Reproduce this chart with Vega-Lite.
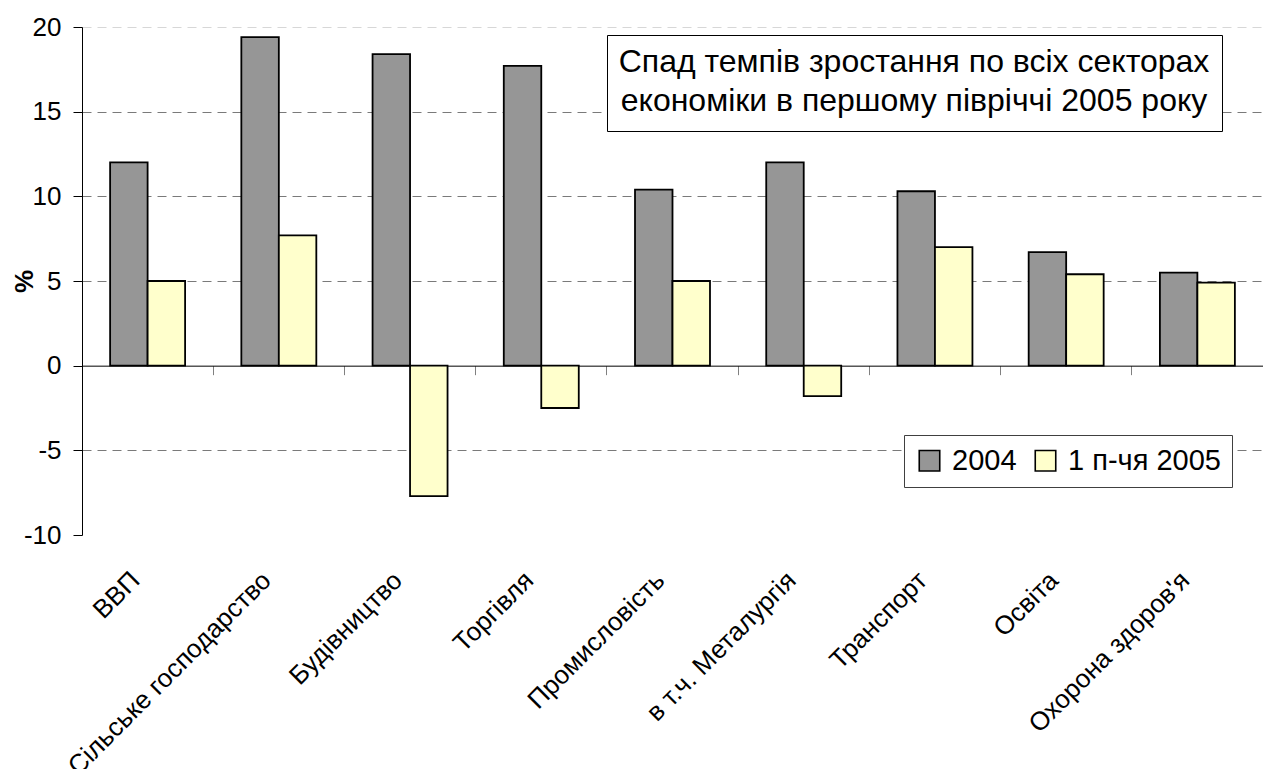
{
  "$schema": "https://vega.github.io/schema/vega-lite/v6.json",
  "width": 1181,
  "height": 508,
  "autosize": {"type": "none"},
  "padding": {"left": 82, "top": 27, "right": 0, "bottom": 234},
  "background": "white",
  "config": {"view": {"stroke": null}, "font": "Liberation Sans"},
  "datasets": {
    "growth": [
      {"sector": "ВВП", "series": "2004", "value": 12.0},
      {"sector": "ВВП", "series": "1 п-чя 2005", "value": 5.0},
      {"sector": "Сільське господарство", "series": "2004", "value": 19.4},
      {"sector": "Сільське господарство", "series": "1 п-чя 2005", "value": 7.7},
      {"sector": "Будівництво", "series": "2004", "value": 18.4},
      {"sector": "Будівництво", "series": "1 п-чя 2005", "value": -7.7},
      {"sector": "Торгівля", "series": "2004", "value": 17.7},
      {"sector": "Торгівля", "series": "1 п-чя 2005", "value": -2.5},
      {"sector": "Промисловість", "series": "2004", "value": 10.4},
      {"sector": "Промисловість", "series": "1 п-чя 2005", "value": 5.0},
      {"sector": "в т.ч. Металургія", "series": "2004", "value": 12.0},
      {"sector": "в т.ч. Металургія", "series": "1 п-чя 2005", "value": -1.8},
      {"sector": "Транспорт", "series": "2004", "value": 10.3},
      {"sector": "Транспорт", "series": "1 п-чя 2005", "value": 7.0},
      {"sector": "Освіта", "series": "2004", "value": 6.7},
      {"sector": "Освіта", "series": "1 п-чя 2005", "value": 5.4},
      {"sector": "Охорона здоров'я", "series": "2004", "value": 5.5},
      {"sector": "Охорона здоров'я", "series": "1 п-чя 2005", "value": 4.9}
    ],
    "note": [{"t": "note"}]
  },
  "resolve": {"axis": {"x": "independent"}},
  "layer": [
    {
      "data": {"name": "growth"},
      "mark": {"type": "bar", "stroke": "black", "strokeWidth": 1.8},
      "encoding": {
        "x": {
          "field": "sector",
          "type": "nominal",
          "sort": null,
          "scale": {"paddingInner": 0, "paddingOuter": 0},
          "axis": {
            "orient": "bottom",
            "title": null,
            "domain": false,
            "ticks": false,
            "labelAngle": -45,
            "labelAlign": "right",
            "labelBaseline": "middle",
            "labelPadding": 41,
            "labelOffset": -12,
            "labelFontSize": 26,
            "labelColor": "black",
            "labelLimit": 0,
            "labelOverlap": false,
            "labelFont": "Liberation Sans"
          }
        },
        "xOffset": {
          "field": "series",
          "type": "nominal",
          "sort": ["2004", "1 п-чя 2005"],
          "scale": {"paddingInner": 0, "paddingOuter": 0.75}
        },
        "y": {
          "field": "value",
          "type": "quantitative",
          "scale": {"domain": [-10, 20], "nice": false, "zero": false},
          "axis": {
            "values": [-10, -5, 0, 5, 10, 15, 20],
            "labelExpr": "(datum.value < 0 ? '-' : '') + abs(datum.value)",
            "tickSize": 9,
            "tickColor": "black",
            "domainColor": "black",
            "domainWidth": 1,
            "labelFontSize": 26,
            "labelColor": "black",
            "labelPadding": 12,
            "labelFont": "Liberation Sans",
            "grid": true,
            "gridDash": [9, 6],
            "gridColor": {"condition": {"test": "datum.value == 0 || datum.value == -10", "value": "rgba(0,0,0,0)"}, "value": "#7a7a7a"},
            "gridOpacity": {"condition": {"test": "datum.value == 20", "value": 0.3}, "value": 1},
            "title": "%",
            "titleFontSize": 26,
            "titleFontWeight": "bold",
            "titleColor": "black",
            "titleFont": "Liberation Sans",
            "titleAngle": -90,
            "titleX": -58,
            "titleY": 254,
            "titleAlign": "center",
            "titleBaseline": "middle"
          }
        },
        "fill": {
          "field": "series",
          "type": "nominal",
          "scale": {"domain": ["2004", "1 п-чя 2005"], "range": ["#969696", "#FFFFCC"]},
          "legend": {
            "orient": "none",
            "legendX": 822,
            "legendY": 408,
            "direction": "horizontal",
            "title": null,
            "strokeColor": "#404040",
            "fillColor": "white",
            "padding": 11,
            "symbolType": "square",
            "symbolSize": 420,
            "symbolStrokeColor": "black",
            "symbolStrokeWidth": 1.6,
            "labelFontSize": 29,
            "labelFont": "Liberation Sans",
            "labelColor": "black",
            "labelOffset": 8,
            "columnPadding": 14,
            "labelLimit": 0
          }
        }
      }
    },
    {
      "data": {"name": "growth"},
      "mark": {"type": "rule", "opacity": 0},
      "encoding": {
        "x": {
          "field": "sector",
          "type": "nominal",
          "sort": null,
          "axis": {
            "orient": "bottom",
            "offset": -169.33,
            "title": null,
            "labels": false,
            "ticks": true,
            "tickSize": 9,
            "tickColor": "#808080",
            "domainColor": "black",
            "domainWidth": 1,
            "bandPosition": 0,
            "grid": false
          }
        }
      }
    },
    {
      "data": {"name": "note"},
      "mark": {"type": "point", "opacity": 0},
      "encoding": {
        "shape": {
          "field": "t",
          "type": "nominal",
          "legend": {
            "orient": "none",
            "legendX": 525,
            "legendY": 8,
            "title": ["\u00a0Спад темпів зростання по всіх секторах\u00a0", "\u00a0економіки в першому півріччі 2005 року\u00a0"],
            "titleFontSize": 32,
            "titleFont": "Liberation Sans",
            "titleFontWeight": "normal",
            "titleColor": "black",
            "titleLineHeight": 39,
            "titleAlign": "center",
            "titleAnchor": "middle",
            "titlePadding": 0,
            "titleLimit": 0,
            "strokeColor": "black",
            "fillColor": "white",
            "padding": 12,
            "symbolSize": 0,
            "symbolOpacity": 0,
            "symbolStrokeWidth": 0,
            "labelExpr": "''",
            "labelFontSize": 1,
            "rowPadding": 0
          }
        }
      }
    }
  ]
}
